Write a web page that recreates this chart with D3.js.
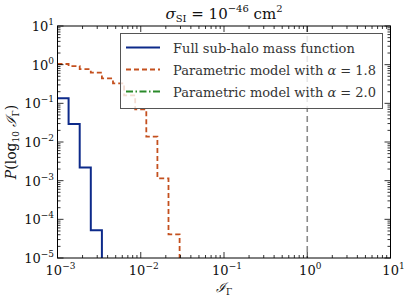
<!DOCTYPE html>
<html><head><meta charset="utf-8">
<script src="https://cdn.jsdelivr.net/npm/d3@7"></script>
<style>body{margin:0;background:#fff}svg{display:block}</style>
</head><body><svg id="c" width="407" height="299" font-family="'DejaVu Serif', 'Liberation Serif', serif"></svg>
<script>
// ---- data ----
const binEdges = [0.001, 0.001359, 0.001848, 0.002512, 0.003415, 0.004642, 0.00631, 0.008577, 0.01166, 0.01585, 0.02154, 0.02929];
const fullSHMF = [0.135, 0.029, 0.0022, 5.2e-5, 0, 0, 0, 0, 0, 0, 0];
const paramAlpha18 = [1.04, 0.92, 0.77, 0.62, 0.44, 0.33, 0.16, 0.070, 0.0137, 0.00115, 4.1e-5];
const paramAlpha20 = [0, 0, 0, 0, 0, 0, 0, 0, 0, 0, 0];
const refLineX = [1];
const xTickExps = [-3, -2, -1, 0, 1];
const yTickExps = [-5, -4, -3, -2, -1, 0, 1];
const seriesNames = ["Full sub-halo mass function", "Parametric model with ", "Parametric model with "];
const alphaVals = [null, "1.8", "2.0"];
const seriesColors = ["#0d2a8a", "#c4501e", "#2a8a2a"];
const seriesDash = [null, "5,3", "7,2.5,1.5,2.5"];

// ---- layout ----
const L = 57.5, R = 390.5, T = 26, B = 258;
const svg = d3.select("#c");
const x = d3.scaleLog().domain([1e-3, 10]).range([L, R]);
const y = d3.scaleLog().domain([1e-5, 10]).range([B, T]);

svg.append("defs").append("clipPath").attr("id", "clip")
  .append("rect").attr("x", L).attr("y", T).attr("width", R - L).attr("height", B - T);

const plot = svg.append("g").attr("clip-path", "url(#clip)");

plot.selectAll(".ref").data(refLineX).enter().append("line")
  .attr("x1", d => x(d)).attr("x2", d => x(d)).attr("y1", T).attr("y2", B)
  .attr("stroke", "#8a8a8a").attr("stroke-width", 1.6).attr("stroke-dasharray", "6,4");

function stepPath(vals) {
  let d = "";
  const bottom = B + 6;
  vals.forEach((v, i) => {
    const yy = v > 0 ? y(v) : bottom;
    d += (i === 0 ? `M${x(binEdges[0])},${yy}` : `V${yy}`) + `H${x(binEdges[i + 1])}`;
  });
  d += `V${bottom}`;
  return d;
}
[fullSHMF, paramAlpha18, paramAlpha20].forEach((vals, i) => {
  if (!vals.some(v => v > 0)) return;
  plot.append("path").attr("d", stepPath(vals)).attr("fill", "none")
    .attr("stroke", seriesColors[i]).attr("stroke-width", i === 0 ? 2 : 1.8)
    .attr("stroke-dasharray", seriesDash[i]);
});

svg.append("rect").attr("x", L).attr("y", T).attr("width", R - L).attr("height", B - T)
  .attr("fill", "none").attr("stroke", "#000").attr("stroke-width", 1);

const tickG = svg.append("g").attr("stroke", "#000").attr("stroke-width", 0.8);
function minors(exps) {
  const out = [];
  for (let i = 0; i < exps.length - 1; i++) for (let k = 2; k <= 9; k++) out.push(k * Math.pow(10, exps[i]));
  return out;
}
const xMaj = xTickExps.map(e => Math.pow(10, e)), yMaj = yTickExps.map(e => Math.pow(10, e));
const xMin = minors(xTickExps), yMin = minors(yTickExps);
[[xMaj, 6], [xMin, 3]].forEach(([vals, len]) => {
  vals.forEach(v => {
    tickG.append("line").attr("x1", x(v)).attr("x2", x(v)).attr("y1", B).attr("y2", B - len);
    tickG.append("line").attr("x1", x(v)).attr("x2", x(v)).attr("y1", T).attr("y2", T + len);
  });
});
[[yMaj, 6], [yMin, 3]].forEach(([vals, len]) => {
  vals.forEach(v => {
    tickG.append("line").attr("y1", y(v)).attr("y2", y(v)).attr("x1", L).attr("x2", L + len);
    tickG.append("line").attr("y1", y(v)).attr("y2", y(v)).attr("x1", R).attr("x2", R - len);
  });
});

function powLabel(g, e, px, py, anchor) {
  const t = g.append("text").attr("x", px).attr("y", py).attr("text-anchor", anchor)
    .attr("font-size", 13).attr("fill", "#111");
  t.append("tspan").text("10");
  t.append("tspan").attr("dy", -6).attr("font-size", 9).text(e < 0 ? "\u2212" + (-e) : String(e));
}
const lab = svg.append("g");
xTickExps.forEach(e => powLabel(lab, e, x(Math.pow(10, e)) + 3, 275, "middle"));
yTickExps.forEach(e => powLabel(lab, e, 54, y(Math.pow(10, e)) + 5, "end"));

const xl = svg.append("text").attr("x", 224).attr("y", 292).attr("text-anchor", "middle")
  .attr("font-size", 13).attr("fill", "#111");
xl.append("tspan").attr("font-style", "italic").text("\u2110");
xl.append("tspan").attr("dy", 3).attr("font-size", 9).text("\u0393");

const yl = svg.append("text").attr("transform", "translate(16,142) rotate(-90)").attr("text-anchor", "middle")
  .attr("font-size", 14).attr("fill", "#111");
yl.append("tspan").attr("font-style", "italic").text("P");
yl.append("tspan").text("(log");
yl.append("tspan").attr("dy", 3).attr("font-size", 9).text("10");
yl.append("tspan").attr("dy", -3).attr("font-style", "italic").text(" \u2110");
yl.append("tspan").attr("dy", 3).attr("font-size", 9).text("\u0393");
yl.append("tspan").attr("dy", -3).text(")");

const tt = svg.append("text").attr("x", 224).attr("y", 19).attr("text-anchor", "middle")
  .attr("font-size", 15).attr("fill", "#111");
tt.append("tspan").attr("font-style", "italic").text("\u03C3");
tt.append("tspan").attr("dy", 3).attr("font-size", 10).text("SI");
tt.append("tspan").attr("dy", -3).text(" = 10");
tt.append("tspan").attr("dy", -7).attr("font-size", 10).text("\u221246");
tt.append("tspan").attr("dy", 7).text(" cm");
tt.append("tspan").attr("dy", -7).attr("font-size", 10).text("2");

const lg = svg.append("g");
lg.append("rect").attr("x", 120.5).attr("y", 33.5).attr("width", 262).attr("height", 75)
  .attr("fill", "#fff").attr("fill-opacity", 0.8).attr("stroke", "#555").attr("stroke-width", 1);
const rowY = [47.5, 69.5, 91.5];
seriesNames.forEach((n, i) => {
  lg.append("line").attr("x1", 126).attr("x2", 160).attr("y1", rowY[i]).attr("y2", rowY[i])
    .attr("stroke", seriesColors[i]).attr("stroke-width", i === 0 ? 2 : 1.8)
    .attr("stroke-dasharray", seriesDash[i]);
  const t = lg.append("text").attr("x", 173).attr("y", rowY[i] + 5).attr("font-size", 13).attr("fill", "#333");
  t.append("tspan").text(n);
  if (alphaVals[i]) {
    t.append("tspan").attr("font-style", "italic").text("\u03B1");
    t.append("tspan").text(" = " + alphaVals[i]);
  }
});
</script></body></html>
